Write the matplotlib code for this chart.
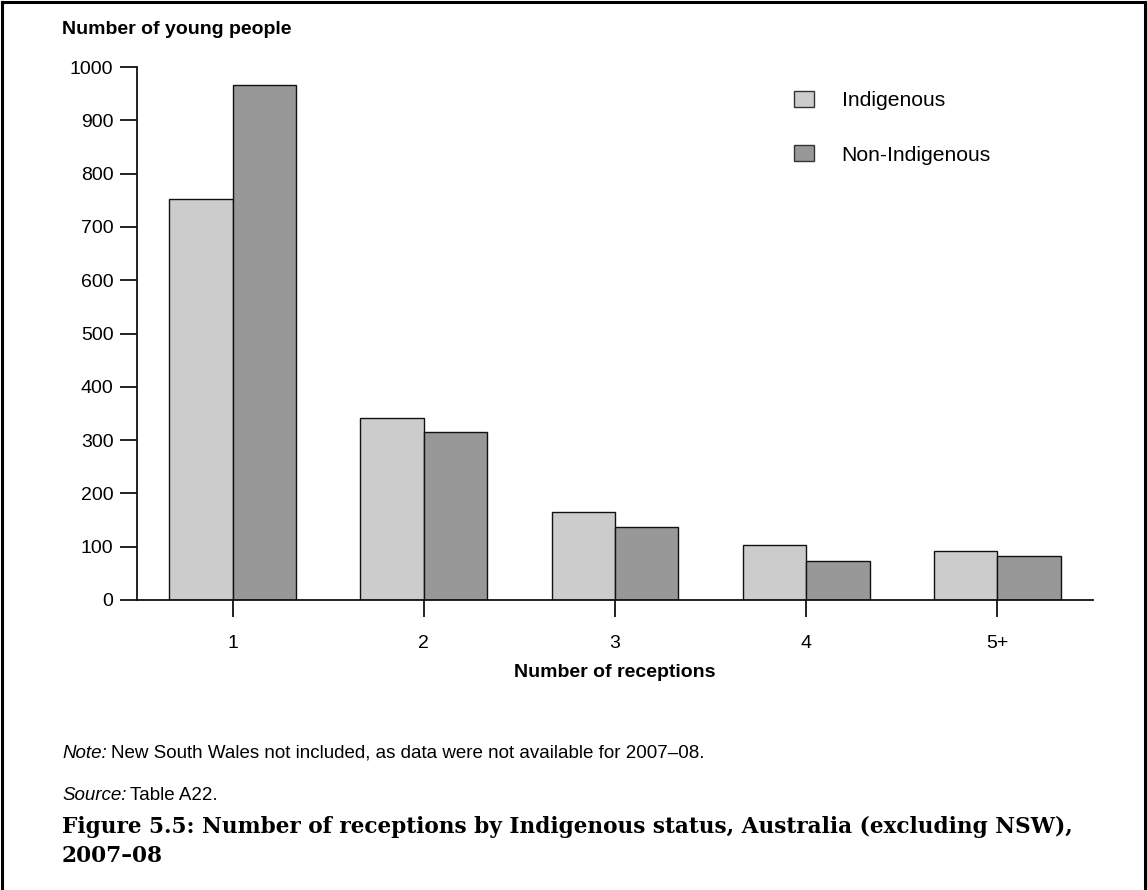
import matplotlib
matplotlib.use("Agg")
import matplotlib.pyplot as plt
from matplotlib.patches import Patch
from matplotlib.lines import Line2D
import numpy as np

categories = ["1", "2", "3", "4", "5+"]
indigenous = [752, 342, 166, 104, 91]
non_indigenous = [967, 316, 137, 74, 82]
yticks = [0, 100, 200, 300, 400, 500, 600, 700, 800, 900, 1000]

W, H = 1147, 890
plt.rcParams['font.family'] = ['Liberation Sans', 'DejaVu Sans']

fig = plt.figure(figsize=(W / 100, H / 100), dpi=100)

def fx(x):
    return x / W

def fy(y):
    return 1 - y / H

ax = fig.add_axes([fx(137), fy(600), fx(1093) - fx(137), fy(67) - fy(600)])

x = np.arange(len(categories))
bw = 0.332
ax.bar(x - bw / 2, indigenous, width=bw, color="#cccccc", edgecolor="#111111", linewidth=1.0, label="Indigenous", zorder=2)
ax.bar(x + bw / 2, non_indigenous, width=bw, color="#989898", edgecolor="#111111", linewidth=1.0, label="Non-Indigenous", zorder=2)

ax.set_xlim(-0.5, len(categories) - 0.5)
ax.set_ylim(0, 1000)
ax.set_yticks(yticks)
ax.set_yticklabels([str(t) for t in yticks])
ax.set_xticks(x)
ax.set_xticklabels(categories)

for s in ["top", "right"]:
    ax.spines[s].set_visible(False)
for s in ["left", "bottom"]:
    ax.spines[s].set_linewidth(1.3)
    ax.spines[s].set_color("#111111")
    ax.spines[s].set_zorder(3)

ax.tick_params(axis="y", length=12, width=1.3, pad=5, labelsize=14, color="#111111")
ax.tick_params(axis="x", length=12, width=1.3, pad=13, labelsize=14, color="#111111")

ax.set_xlabel("Number of receptions", fontsize=14, fontweight="bold", labelpad=9)

leg = fig.legend(handles=[Patch(facecolor="#cccccc", edgecolor="#333333", linewidth=1.0),
                          Patch(facecolor="#989898", edgecolor="#333333", linewidth=1.0)],
                 labels=["Indigenous", "Non-Indigenous"],
                 loc="upper left", bbox_to_anchor=(fx(794), fy(91)),
                 frameon=False, fontsize=15.2, handlelength=0.95, handleheight=0.8,
                 handletextpad=1.3, labelspacing=1.65, borderpad=0, borderaxespad=0)

fig.text(fx(62), fy(30), "Number of young people", fontsize=14, fontweight="bold",
         ha="left", va="center")

note_fs = 13.5
t1 = fig.text(fx(62), fy(753), "Note:", fontsize=note_fs, style="italic", ha="left", va="center")
fig.canvas.draw()
bb = t1.get_window_extent()
fig.text((bb.x1 + 4) / W, fy(753), "New South Wales not included, as data were not available for 2007\u201308.",
         fontsize=note_fs, ha="left", va="center")
t2 = fig.text(fx(62), fy(796), "Source:", fontsize=note_fs, style="italic", ha="left", va="center")
fig.canvas.draw()
bb2 = t2.get_window_extent()
fig.text((bb2.x1 + 4) / W, fy(796), "Table A22.", fontsize=note_fs, ha="left", va="center")

cap1 = fig.text(fx(62), fy(827), "Figure 5.5: Number of receptions by Indigenous status, Australia (excluding NSW),",
                fontsize=17, fontweight="bold", family=["DejaVu Serif"], ha="left", va="center")
fig.canvas.draw()
wcap = cap1.get_window_extent().width
cap_fs = 17 * (1076 - 62) / wcap
cap1.set_fontsize(cap_fs)
fig.text(fx(62), fy(856), "2007\u201308",
         fontsize=cap_fs, fontweight="bold", family=["DejaVu Serif"], ha="left", va="center")

# frame (left, top, right)
for xs, ys in [([fx(2), fx(2)], [0, fy(2)]), ([fx(2), fx(1145)], [fy(2), fy(2)]), ([fx(1145), fx(1145)], [fy(2), 0])]:
    fig.add_artist(Line2D(xs, ys, color="black", linewidth=2.2, transform=fig.transFigure))

fig.savefig("out.png", dpi=100)
